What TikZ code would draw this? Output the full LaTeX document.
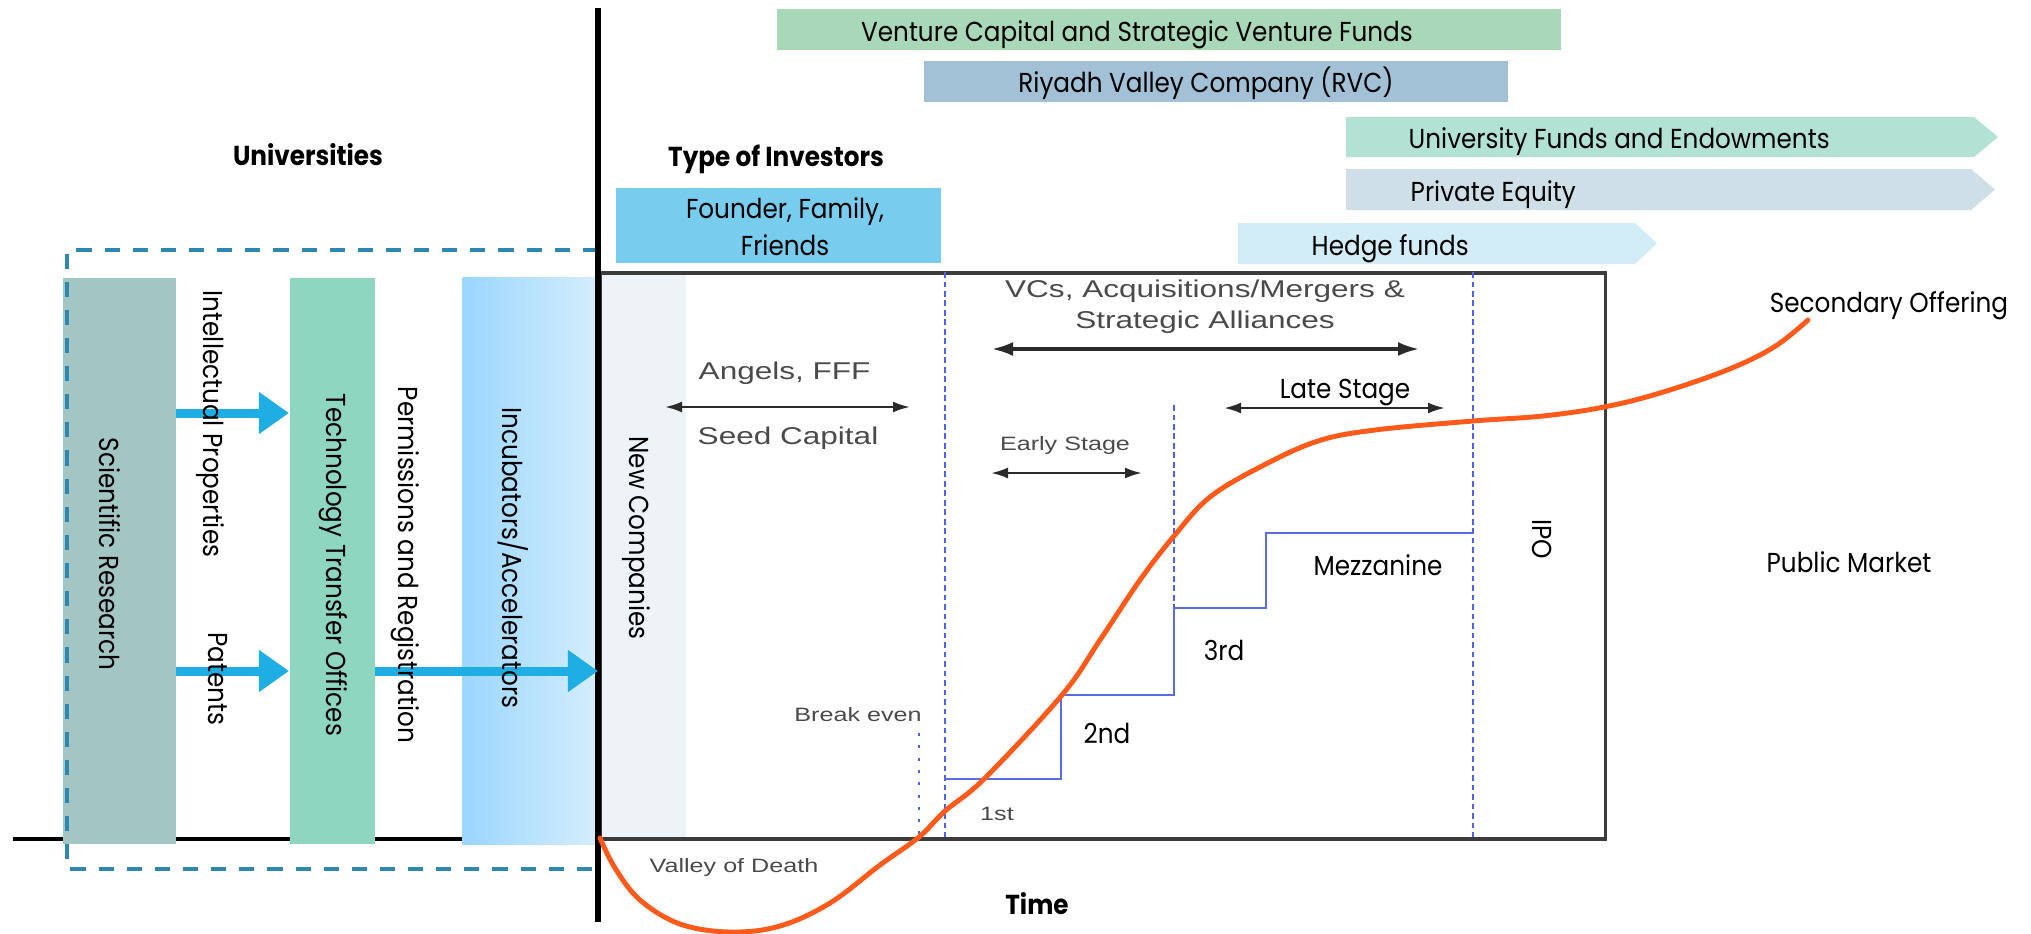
\documentclass[tikz,border=0pt]{standalone}
\usepackage{fontspec}
\setmainfont{Poppins}
\newfontfamily\gf[FakeStretch=0.9]{Poppins}
\newfontfamily\af[FakeStretch=1.3]{Liberation Sans}
\usetikzlibrary{arrows.meta}
\definecolor{vcgreen}{HTML}{A9D8B8}
\definecolor{rvcblue}{HTML}{A2C0D6}
\definecolor{unigreen}{HTML}{B2E2D4}
\definecolor{pegray}{HTML}{CFDFE8}
\definecolor{hedgeblue}{HTML}{D2EDF8}
\definecolor{fffblue}{HTML}{78CDEF}
\definecolor{srgray}{HTML}{A2C6C3}
\definecolor{ttogreen}{HTML}{8ED6C0}
\definecolor{incleft}{HTML}{9AD6FE}
\definecolor{incright}{HTML}{D6EEFC}
\definecolor{ncfill}{HTML}{EDF3F6}
\definecolor{arrowblue}{HTML}{1FAEE4}
\definecolor{rectdash}{HTML}{2D87AE}
\definecolor{chartgray}{HTML}{3C3C3C}
\definecolor{dashblue}{HTML}{4F63E8}
\definecolor{stairblue}{HTML}{5B6BE0}
\definecolor{curveorange}{HTML}{FF5A1A}
\definecolor{graytxt}{HTML}{4A4A4A}
\definecolor{darkarrow}{HTML}{2A2A2A}
\begin{document}
\begin{tikzpicture}[x=0.01cm,y=-0.01cm,
  gtext/.style={font=\gf\fontsize{7.8}{9.4}\selectfont, inner sep=0pt, text=black},
  gbold/.style={font=\gf\bfseries\fontsize{7.8}{9.4}\selectfont, inner sep=0pt, text=black},
  atext/.style={font=\af\fontsize{6.9}{8}\selectfont, inner sep=0pt, text=graytxt},
  asmall/.style={font=\af\fontsize{5.5}{6.5}\selectfont, inner sep=0pt, text=graytxt},
  colbar/.style={draw=none, inner sep=0pt, anchor=north west, minimum height=5.66cm},
  bluearrow/.style={draw=arrowblue, line width=0.09cm, -{Triangle[length=0.3cm,width=0.4cm]}},
  dblbig/.style={draw=darkarrow, line width=0.9pt, {Latex[length=2.1mm,width=1.4mm]}-{Latex[length=2.1mm,width=1.4mm]}},
  dblsmall/.style={draw=darkarrow, line width=0.7pt, {Latex[length=1.7mm,width=1.1mm]}-{Latex[length=1.7mm,width=1.1mm]}},
  vdash/.style={draw=dashblue, line width=0.6pt, dash pattern=on 1.6pt off 1.1pt},
  stair/.style={draw=stairblue, line width=0.75pt},
]
\useasboundingbox (0,0) rectangle (2031,933);

% coordinates
\coordinate (mtop) at (598,8);
\coordinate (mbot) at (598,922);
\coordinate (bl) at (13,839);
\coordinate (ya) at (0,413);
\coordinate (yb) at (0,671);

% left baseline
\draw[line width=1.25pt] (bl) -- (bl -| mtop);

% university bars
\node[colbar, fill=srgray, minimum width=1.13cm] (sr) at (62,277) {};
\node[colbar, fill=ttogreen, minimum width=0.85cm] (tto) at (289,277) {};
\node[colbar, left color=incleft, right color=incright, minimum width=1.36cm] (inc) at (462,277) {};

% chart
\node[colbar, fill=ncfill, minimum width=0.87cm] (nc) at (598,271) {};
\node[draw=chartgray, line width=1pt, inner sep=0pt, anchor=north west, minimum width=10.05cm, minimum height=5.66cm] (chart) at (598,271) {};

% top investor bars
\node[fill=vcgreen, inner sep=0pt, anchor=north west, minimum width=7.84cm, minimum height=0.41cm] (vc) at (776,8) {};
\node[fill=rvcblue, inner sep=0pt, anchor=north west, minimum width=5.84cm, minimum height=0.41cm] (rvc) at (923,60) {};
\fill[unigreen] (1346,117) -- (1974,117) -- (1998,137) -- (1974,157) -- (1346,157) -- cycle;
\fill[pegray] (1346,169) -- (1971,169) -- (1995,189.5) -- (1971,210) -- (1346,210) -- cycle;
\fill[hedgeblue] (1238,223) -- (1635,223) -- (1657,243.5) -- (1635,264) -- (1238,264) -- cycle;
\node[fill=fffblue, inner sep=0pt, anchor=north west, minimum width=3.25cm, minimum height=0.75cm] (fff) at (615,187) {};

% dashed university frame
\draw[rectdash, line width=0.9pt, dash pattern=on 4.3pt off 3.7pt] (598,250) -- (67,250) -- (67,869) -- (598,869);

% main vertical line
\draw[line width=1.5pt] (mtop) -- (mbot);

% blue arrows
\draw[bluearrow] (sr.east |- ya) -- (tto.west |- ya);
\draw[bluearrow] (sr.east |- yb) -- (tto.west |- yb);
\draw[bluearrow] (tto.east |- yb) -- (mtop |- yb);

% blue dashed verticals and stair
\draw[vdash] (945,272) -- (945,837);
\draw[vdash] (1174,405) -- (1174,608);
\draw[vdash] (1473,272) -- (1473,837);
\draw[draw=dashblue, line width=0.8pt, dash pattern=on 0.9pt off 2.6pt] (919,733) -- (919,834);
\draw[stair] (945,779) -- (1061,779) -- (1061,695) -- (1174,695) -- (1174,608) -- (1266,608) -- (1266,533) -- (1473,533);

% orange curve
\draw[curveorange, line width=1.4pt, line cap=round] plot[smooth, tension=0.6] coordinates {
 (600,838) (615,868) (640,900) (680,924) (730,932) (780,926) (830,903) (880,865) (919,837) (945,811) (985,778) (1062,695) (1100,640) (1140,580) (1174,536) (1210,497) (1262,466) (1318,441) (1375,430) (1473,421) (1543,416) (1604,407) (1660,393) (1727,370) (1774,347) (1808,320)};

% black double arrows
\coordinate (vcL) at (992,349); \coordinate (vcR) at (1419,349);
\coordinate (angL) at (665,407); \coordinate (angR) at (910,407);
\coordinate (earL) at (991,473); \coordinate (earR) at (1142,473);
\coordinate (latL) at (1224,408); \coordinate (latR) at (1445,408);
\draw[dblbig] (vcL) -- (vcR);
\draw[dblsmall] (angL) -- (angR);
\draw[dblsmall] (earL) -- (earR);
\draw[dblsmall] (latL) -- (latR);

% texts: top bars
\node[gtext, anchor=base] (tvc) at (1137,41) {Venture Capital and Strategic Venture Funds};
\node[gtext, anchor=base] (trvc) at (1206,92) {Riyadh Valley Company (RVC)};
\node[gtext, anchor=base west] (tuni) at (1408,148) {University Funds and Endowments};
\node[gtext, anchor=base west] (tpe) at (1410,201) {Private Equity};
\node[gtext, anchor=base west] (thedge) at (1311,255) {Hedge funds};
\node[gtext, anchor=base] (tfffa) at (785,218) {Founder, Family,};
\node[gtext, anchor=base] (tfffb) at (785,255) {Friends};
\node[gbold, anchor=base] (ttype) at (776,166) {Type of Investors};
\node[gbold, anchor=base] (tuniv) at (308,165) {Universities};

% texts: rotated
\node[gtext, rotate=-90, anchor=base] (tsr) at (99,554) {Scientific Research};
\node[gtext, rotate=-90, anchor=base] (tip) at (203,424) {Intellectual Properties};
\node[gtext, rotate=-90, anchor=base] (tpat) at (208,679) {Patents};
\node[gtext, rotate=-90, anchor=base] (ttto) at (326,565) {Technology Transfer Offices};
\node[gtext, rotate=-90, anchor=base] (tperm) at (398,565) {Permissions and Registration};
\node[gtext, rotate=-90, anchor=base] (tinc) at (502,558) {Incubators/Accelerators};
\node[gtext, rotate=-90, anchor=base] (tnc) at (629,538) {New Companies};
\node[gtext, rotate=-90, anchor=base] (tipo) at (1532,539) {IPO};

% texts: chart gray
\node[atext, anchor=base] (tvca) at (1205,297) {VCs, Acquisitions/Mergers \&};
\node[atext, anchor=base] (tvcb) at (1205,328) {Strategic Alliances};
\node[atext, anchor=base west] (tang) at (698,379) {Angels, FFF};
\node[atext, anchor=base west] (tseed) at (697,444) {Seed Capital};
\node[asmall, anchor=base] (tearly) at (1065,450) {Early Stage};
\node[asmall, anchor=base] (tbreak) at (858,721) {Break even};
\node[asmall, anchor=base] (tvalley) at (734,872) {Valley of Death};
\node[asmall, anchor=base] (tfirst) at (997,820) {1st};

% texts: chart black
\node[gtext, anchor=base] (tlate) at (1345,398) {Late Stage};
\node[gtext, anchor=base] (tsecond) at (1107,743) {2nd};
\node[gtext, anchor=base] (tthird) at (1224,660) {3rd};
\node[gtext, anchor=base] (tmezz) at (1378,575) {Mezzanine};
\node[gtext, anchor=base] (tpub) at (1849,572) {Public Market};
\node[gtext, anchor=base] (tsec) at (1889,312) {Secondary Offering};
\node[gbold, anchor=base] (ttime) at (1037,914) {Time};
\end{tikzpicture}
\end{document}
